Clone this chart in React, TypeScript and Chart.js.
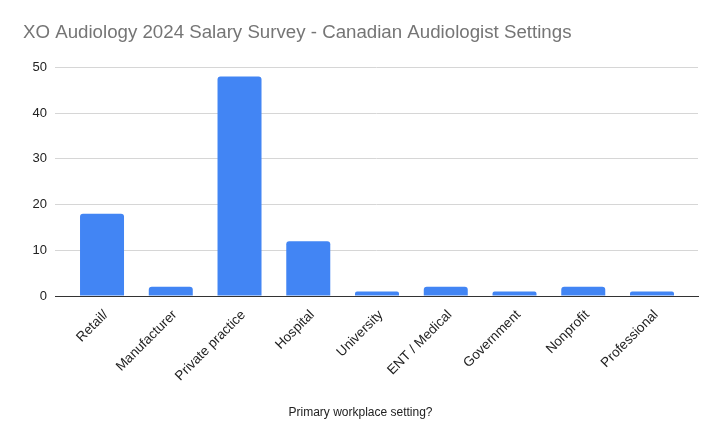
import React, { useEffect, useRef } from "react";
import { Chart, registerables } from "chart.js";

Chart.register(...registerables);

const categories = [
  "Retail/",
  "Manufacturer",
  "Private practice",
  "Hospital",
  "University",
  "ENT / Medical",
  "Government",
  "Nonprofit",
  "Professional",
];
const counts = [18, 2, 48, 12, 1, 2, 1, 2, 1];
const yTicks = [0, 10, 20, 30, 40, 50];

const FONT = "'Liberation Sans', Arial, sans-serif";

export default function App() {
  const ref = useRef<HTMLCanvasElement | null>(null);

  useEffect(() => {
    document.body.style.margin = "0";
    const canvas = ref.current;
    if (!canvas) return;
    const points = counts.map((v, i) => ({ x: i, y: v }));
    const chart = new Chart(canvas, {
      type: "bar",
      data: {
        datasets: [
          {
            label: "Count",
            data: points,
            backgroundColor: "#4285F4",
            borderWidth: 0,
            borderRadius: { topLeft: 3, topRight: 3, bottomLeft: 0, bottomRight: 0 },
            borderSkipped: "start",
            categoryPercentage: 1,
            barPercentage: 0.64,
          },
        ],
      },
      options: {
        responsive: false,
        animation: false,
        maintainAspectRatio: false,
        layout: { padding: { left: 23, right: 21, top: 0, bottom: 0 } },
        plugins: {
          legend: { display: false },
          tooltip: { enabled: false },
          title: {
            display: true,
            text: "XO Audiology 2024 Salary Survey - Canadian Audiologist Settings",
            align: "start",
            color: "#757575",
            font: { family: FONT, size: 18.7, weight: "normal" },
            padding: { top: 22, bottom: 23 },
          },
          subtitle: {
            display: true,
            position: "bottom",
            align: "center",
            text: "Primary workplace setting?",
            color: "#222222",
            font: { family: FONT, size: 12, weight: "normal" },
            padding: { top: 0, bottom: 25 },
          },
        },
        scales: {
          x: {
            type: "linear",
            offset: false,
            min: -0.684,
            max: 8.669,
            afterBuildTicks: (scale: any) => {
              scale.ticks = categories.map((_, i) => ({ value: i }));
            },
            grid: { display: false, drawTicks: false },
            border: { display: true, color: "#333333", width: 1 },
            ticks: {
              color: "#222222",
              font: { family: FONT, size: 13.5 },
              minRotation: 45,
              maxRotation: 45,
              autoSkip: false,
              padding: 11,
              labelOffset: 4,
              callback: (value: any) => categories[value as number] ?? "",
            },
            afterFit: (scale: any) => {
              scale.height = 109.6;
            },
          },
          y: {
            min: 0,
            max: 50,
            afterBuildTicks: (scale: any) => {
              scale.ticks = yTicks.map((v) => ({ value: v }));
            },
            grid: {
              drawTicks: false,
              color: (ctx: any) => (ctx.tick && ctx.tick.value === 0 ? "#333333" : "#d6d6d6"),
            },
            border: { display: false },
            ticks: {
              color: "#222222",
              font: { family: FONT, size: 13 },
              padding: 8,
            },
            afterFit: (scale: any) => {
              scale.width = 32;
            },
          },
        },
      },
    });
    return () => chart.destroy();
  }, []);

  return (
    <div style={{ position: "relative", width: 719, height: 445, background: "#ffffff" }}>
      <canvas ref={ref} width={719} height={445} style={{ display: "block" }} />
    </div>
  );
}
